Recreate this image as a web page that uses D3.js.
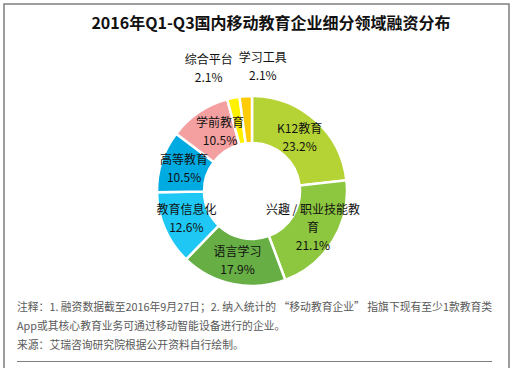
<!DOCTYPE html>
<html>
<head>
<meta charset="utf-8">
<script src="https://cdn.jsdelivr.net/npm/d3@7"></script>
<style>
  body { margin: 0; background: #fff; }
  svg { display: block; font-family: "Noto Sans CJK SC", "Noto Sans", sans-serif; }
</style>
</head>
<body>
<svg id="chart" width="514" height="368"></svg>
<script>
const title = "2016年Q1-Q3国内移动教育企业细分领域融资分布";
const categories = ["K12教育", "兴趣 / 职业技能教育", "语言学习", "教育信息化", "高等教育", "学前教育", "综合平台", "学习工具"];
const shares = [23.2, 21.1, 17.9, 12.6, 10.5, 10.5, 2.1, 2.1];
const colors = ["#b5d334", "#8dc63f", "#67ae45", "#1fc8f4", "#00abe2", "#f4a0a0", "#fff200", "#ffcb05"];
const notes = [
  "注释：1. 融资数据截至2016年9月27日；2. 纳入统计的 “移动教育企业” 指旗下现有至少1款教育类",
  "App或其核心教育业务可通过移动智能设备进行的企业。",
  "来源：艾瑞咨询研究院根据公开资料自行绘制。",
];

const cfg = {
  cx: 252, cy: 191,
  outerR: 95, innerR: 48,
  outsideR: 124,
};

const svg = d3.select("#chart");

// frame (open at the bottom)
svg.append("path")
  .attr("d", "M4,368 V4 H509 V368")
  .attr("fill", "none")
  .attr("stroke", "#7f7f7f")
  .attr("stroke-width", 1.5);

svg.append("text")
  .attr("x", 271).attr("y", 29)
  .attr("text-anchor", "middle")
  .attr("font-size", 16)
  .attr("font-weight", "bold")
  .attr("fill", "#111")
  .text(title);

const data = categories.map((c, i) => ({ name: c, value: shares[i], color: colors[i] }));

const pie = d3.pie().value((d) => d.value).sort(null);
const arc = d3.arc().innerRadius(cfg.innerR).outerRadius(cfg.outerR);
const arcs = pie(data);

const g = svg.append("g").attr("transform", `translate(${cfg.cx},${cfg.cy})`);

g.selectAll("path.slice")
  .data(arcs)
  .join("path")
  .attr("class", "slice")
  .attr("d", arc)
  .attr("fill", (d) => d.data.color)
  .attr("stroke", "#fff")
  .attr("stroke-width", 2.5);

// label lines per slice (the long one wraps like the original)
function labelLines(d) {
  const pct = d.data.value.toFixed(1) + "%";
  if (d.data.name.length > 8) return ["兴趣 / 职业技能教", "育", pct];
  return [d.data.name, pct];
}

const outArc = d3.arc().innerRadius(cfg.outsideR).outerRadius(cfg.outsideR);
const small = (d) => d.data.value < 5;
// spread the two tiny outside labels apart, and push 学前教育 a bit right
const nudge = { "综合平台": -19, "学习工具": 19, "学前教育": 8 };

arcs.forEach((d) => {
  let [x, y] = small(d) ? outArc.centroid(d) : arc.centroid(d);
  x += nudge[d.data.name] || 0;
  const lines = labelLines(d);
  const lh = 18;
  const t = g.append("text")
    .attr("text-anchor", "middle")
    .attr("font-size", 12)
    .attr("fill", "#111");
  lines.forEach((ln, i) => {
    t.append("tspan")
      .attr("x", x)
      .attr("y", y + (i - (lines.length - 1) / 2) * lh + 4)
      .text(ln);
  });
});

// footnotes
svg.selectAll("text.note")
  .data(notes)
  .join("text")
  .attr("class", "note")
  .attr("x", 17)
  .attr("y", (d, i) => 311 + i * 19)
  .attr("font-size", 10.8)
  .attr("fill", "#595959")
  .text((d) => d);

svg.append("line")
  .attr("x1", 17).attr("x2", 492)
  .attr("y1", 361.5).attr("y2", 361.5)
  .attr("stroke", "#7f7f7f")
  .attr("stroke-width", 1);
</script>
</body>
</html>
